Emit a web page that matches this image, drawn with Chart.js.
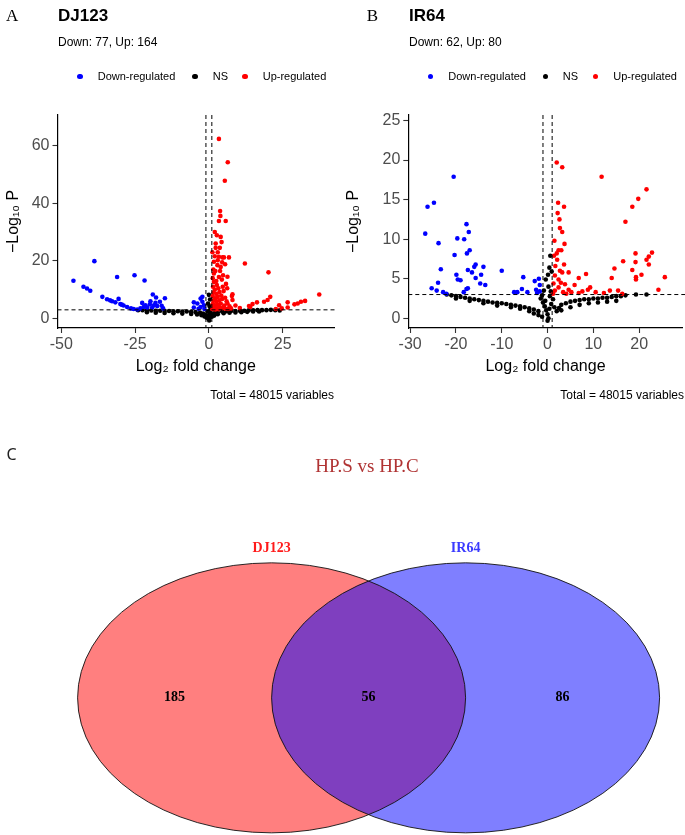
<!DOCTYPE html>
<html><head><meta charset="utf-8">
<script src="https://cdn.jsdelivr.net/npm/chart.js@4.4.1/dist/chart.umd.min.js"></script>
<style>
html,body{margin:0;padding:0;background:#fff;}
#fig{position:relative;width:685px;height:835px;overflow:hidden;background:#fff;font-family:"Liberation Sans",Arial,sans-serif;color:#000;}
.t{position:absolute;white-space:nowrap;line-height:1;}
.serif{font-family:"Liberation Serif","Times New Roman",serif;}
canvas{position:absolute;}
.dot{position:absolute;width:5.6px;height:5.6px;border-radius:50%;margin:-2.8px 0 0 -2.8px;}
</style></head>
<body><div id="fig">
<canvas id="cA" width="342" height="420" style="left:0;top:0;width:342px;height:420px"></canvas>
<canvas id="cB" width="345" height="420" style="left:340px;top:0;width:345px;height:420px"></canvas>
<canvas id="cV" width="685" height="405" style="left:0;top:430px;width:685px;height:405px"></canvas>

<div class="t serif" style="left:6px;top:6.5px;font-size:17px">A</div>
<div class="t" style="left:58px;top:7.3px;font-size:17px;font-weight:bold">DJ123</div>
<div class="t" style="left:58px;top:35.8px;font-size:12px">Down: 77, Up: 164</div>
<div class="dot" style="left:80px;top:76.7px;background:#0000ff"></div>
<div class="t" style="left:97.7px;top:71.2px;font-size:11px">Down-regulated</div>
<div class="dot" style="left:195px;top:76.7px;background:#000"></div>
<div class="t" style="left:212.7px;top:71.2px;font-size:11px">NS</div>
<div class="dot" style="left:245px;top:76.7px;background:#ff0000"></div>
<div class="t" style="left:262.7px;top:71.2px;font-size:11px">Up-regulated</div>
<div class="t" style="right:351px;top:388.8px;font-size:12px">Total = 48015 variables</div>

<div class="t serif" style="left:366.7px;top:6.5px;font-size:17px">B</div>
<div class="t" style="left:409px;top:7.3px;font-size:17px;font-weight:bold">IR64</div>
<div class="t" style="left:409px;top:35.8px;font-size:12px">Down: 62, Up: 80</div>
<div class="dot" style="left:430.7px;top:76.7px;background:#0000ff"></div>
<div class="t" style="left:448.3px;top:71.2px;font-size:11px">Down-regulated</div>
<div class="dot" style="left:545.7px;top:76.7px;background:#000"></div>
<div class="t" style="left:562.7px;top:71.2px;font-size:11px">NS</div>
<div class="dot" style="left:595.3px;top:76.7px;background:#ff0000"></div>
<div class="t" style="left:613.3px;top:71.2px;font-size:11px">Up-regulated</div>
<div class="t" style="right:1px;top:388.8px;font-size:12px">Total = 48015 variables</div>

<div class="t" style="left:6.6px;top:445.8px;font-size:16px;font-family:'Noto Sans',sans-serif;color:#222">C</div>
<div class="t serif" style="left:367px;top:456px;font-size:19px;color:#b03434;transform:translateX(-50%)">HP.S vs HP.C</div>
</div>
<script>
// ---------------- DATA ----------------
// Panel A: DJ123 (log2 fold change, -log10 P)
const djDown = [[-38.8,19.9],[-45.9,13.1],[-42.5,11.0],[-41.3,10.4],[-40.2,9.6],[-31.1,14.4],[-25.2,15.0],[-21.8,13.2],
 [-36.1,7.5],[-34.5,6.7],[-32.8,6.0],[-31.7,5.6],[-30.6,6.8],[-30.0,5.0],[-28.9,4.5],[-27.7,4.0],[-26.4,3.5],[-24.3,3.1],
 [-22.6,5.4],[-21.5,4.6],[-19.0,8.3],[-17.9,7.3],[-14.9,7.0],[-19.8,6.0],[-18.1,5.4],[-16.6,5.8],[-20.9,3.8],[-19.2,3.8],
 [-17.5,4.3],[-22.1,4.0],[-23.2,3.5],[-33.5,6.3],[-29.5,4.8],[-25.5,3.3],[-20.0,4.9],[-18.6,4.6],[-16.0,4.4],[-15.5,3.5],
 [-5.1,5.6],[-2.8,6.9],[-2.2,5.8],[-3.9,5.2],[-1.7,4.6],[-5.1,3.8],[-2.8,4.0],[-1.5,3.3],[-3.5,3.4],[-2.2,7.5]];
const djUp = [[3.4,62.3],[6.4,54.2],[5.4,47.8],[3.8,37.3],[3.9,35.6],[3.4,33.8],[5.7,33.8],[2.7,28.9],[4.0,28.3],[2.3,24.5],
 [3.7,24.5],[2.0,21.6],[3.4,21.4],[5.1,21.2],[6.8,21.2],[4.6,21.2],[12.2,19.1],[1.7,19.7],[2.9,18.5],[4.0,17.9],[20.2,16.0],
 [1.7,15.6],[3.4,14.4],[4.4,13.5],[1.7,12.7],[2.7,11.6],[4.7,11.0],[37.4,8.3],[7.8,7.8],[8.0,8.4],[20.8,7.5],[19.9,6.4],
 [18.7,5.8],[16.3,5.6],[14.8,5.0],[14.0,4.0],[26.7,5.6],[31.2,5.8],[30.1,5.2],[29.0,4.9],[32.6,6.1],[23.8,4.6],[22.7,3.3],
 [24.7,3.5],[26.7,3.8],[13.6,4.3],[8.0,6.4],[6.3,5.2],
 [1.5,17.0],[2.2,16.5],[1.3,14.0],[2.5,13.0],[1.4,11.0],[2.0,10.0],[3.2,10.5],[1.6,9.0],[2.6,8.5],[3.6,9.2],[1.3,7.8],
 [2.2,7.0],[3.0,7.5],[4.2,8.0],[5.0,9.5],[1.5,6.2],[2.5,5.8],[3.5,6.3],[4.5,6.8],[5.5,7.2],[1.3,5.0],[2.0,4.6],[3.0,4.8],
 [4.0,5.2],[5.2,4.5],[6.0,6.0],[1.6,3.8],[2.6,3.5],[3.6,4.0],[4.6,3.6],[5.6,3.4],[7.0,4.2],[1.2,3.2],[2.2,3.1],[3.3,3.2],
 [6.5,3.3],[7.5,3.5],[9.0,4.5],[10.5,3.6],[4.8,15.0],[3.8,16.5],[5.8,12.0],[6.2,10.5],[2.3,26.0],[4.3,26.5],[3.0,23.0],
 [5.5,18.8],[6.3,14.5],[4.5,19.5],[3.0,20.2],[1.2,23.0],[2.0,30.0]];
const djNS = [[-24,2.9],[-22.5,2.9],[-21,2.8],[-19.5,2.8],[-18,2.7],[-16.5,2.7],[-15,2.6],[-13.5,2.6],[-12,2.5],[-10.5,2.5],
 [-9,2.4],[-7.5,2.4],[-6,2.3],[-4.5,2.2],[-3,2.0],[-2,1.7],[-1.2,1.2],
 [-21,2.2],[-18,2.0],[-15,1.9],[-12,1.8],[-9,1.7],[-6,1.6],[-4,1.4],[-2.5,1.1],[-1.5,0.7],[-0.8,0.3],
 [0,0],[0.1,-0.7],[-0.3,1.0],[0.3,1.5],[-0.4,2.4],[0.5,3.2],[0.2,4.3],[-0.3,5.2],[0.4,6.6],[0.0,8.2],[0.6,2.0],[0.3,0.5],
 [1.2,1.4],[2,1.9],[3,2.2],[4.5,2.4],[6,2.5],[7.5,2.6],[9,2.6],[10.5,2.7],[12,2.7],[13.5,2.8],[15,2.8],[16.5,2.9],[18,2.9],
 [19.5,2.9],[21,3.0],[22.5,2.9],[24,2.8],
 [1,0.6],[1.8,1.0],[3,1.5],[5,1.8],[7,2.0],[9,2.1],[11,2.2],[13,2.3],[15,2.4],[17,2.4]];

// Panel B: IR64
const irDown = [[-20.5,17.9],[-26.2,14.1],[-24.8,14.6],[-26.7,10.7],[-23.8,9.5],[-17.7,11.9],[-17.2,10.9],[-19.7,10.1],
 [-18.2,10.0],[-20.3,8.0],[-17.0,8.6],[-17.6,8.2],[-23.3,6.2],[-15.7,6.8],[-16.0,6.5],[-14.0,6.5],[-17.4,6.1],[-16.5,5.8],
 [-10.0,6.0],[-19.9,5.5],[-14.5,5.5],[-19.6,4.9],[-19.0,4.8],[-23.9,4.5],[-15.7,5.1],[-14.7,4.4],[-13.6,4.2],[-25.3,3.8],
 [-24.2,3.5],[-22.8,3.3],[-22.1,3.1],[-18.3,3.3],[-17.7,3.7],[-17.4,3.8],[-5.3,5.2],[-2.8,4.7],[-1.9,5.0],[-1.7,4.2],
 [-5.6,3.7],[-7.3,3.3],[-6.6,3.3],[-4.4,3.3],[-2.5,3.6],[-1.7,3.4],[-2.3,3.2]];
const irUp = [[2.0,19.7],[3.2,19.1],[11.8,17.9],[21.6,16.3],[19.8,15.1],[18.5,14.1],[2.3,14.6],[3.6,14.1],[2.2,13.3],
 [2.6,12.5],[2.7,11.4],[3.2,10.9],[17.0,12.2],[1.5,9.8],[3.7,9.4],[2.4,8.6],[2.0,8.2],[3.0,8.6],[22.8,8.3],[22.1,7.8],
 [21.6,7.4],[22.1,6.8],[19.2,8.2],[19.2,7.1],[16.5,7.2],[14.6,6.3],[18.5,6.1],[20.5,5.5],[19.3,5.2],[19.3,4.9],[25.6,5.2],
 [24.2,3.6],[14.0,5.1],[8.4,5.6],[6.8,5.1],[4.6,5.8],[3.2,5.8],[1.7,6.6],[2.1,7.4],[1.6,5.4],[2.4,4.9],[5.9,4.2],[9.3,3.9],
 [8.8,3.6],[4.6,3.6],[3.4,3.3],[1.6,3.5],[2.4,3.9],[6.8,3.2],[13.6,3.5],[15.4,3.5],[16.3,3.1],
 [1.3,4.4],[2.9,4.5],[3.8,4.3],[1.2,3.1],[2.7,6.0],[3.6,6.8],[1.4,7.9],[4.1,3.1],[5.2,3.3],[7.6,3.4],[10.5,3.3],[12.3,3.2]];
const irNS = [[-22,3.0],[-21,2.9],[-20,2.8],[-19,2.7],[-18,2.6],[-17,2.5],[-16,2.4],[-15,2.3],[-14,2.2],[-13,2.1],[-12,2.0],
 [-11,1.95],[-10,1.9],[-9,1.8],[-8,1.7],[-7,1.6],[-6,1.5],[-5,1.4],[-4,1.25],[-3,1.1],[-2,0.9],
 [-20,2.5],[-17,2.2],[-14,1.9],[-11,1.6],[-8,1.4],[-6,1.2],[-4,0.9],[-3,0.6],[-2,0.4],[-1.2,0.2],
 [-1.5,2.5],[-1.0,2.0],[-0.6,1.5],[-0.3,1.0],[0,0.5],[0.2,0],[0,-0.3],[0.4,1.2],[0.8,1.8],[1.2,2.4],[-1.2,2.9],[0.5,2.8],
 [-0.5,2.2],[1.5,1.4],[2,0.9],[2.5,1.3],[0.6,7.9],[0.4,6.4],[0.9,5.9],[-0.4,4.9],[0.2,4.0],[-0.8,3.5],[0.7,3.4],[0.1,5.5],
 [3,1.7],[4,1.9],[5,2.1],[6,2.2],[7,2.3],[8,2.4],[9,2.4],[10,2.5],[11,2.5],[12,2.6],[13,2.6],[14,2.7],[15,2.8],[16,2.8],
 [17,2.9],[19.3,3.0],[21.6,3.0],
 [3,1.0],[5,1.4],[7,1.7],[9,1.9],[11,2.0],[13,2.1],[15,2.2]];

// cut-offs
const fcCutoffs = [-1, 1];
const pCutoff = 3;

// axes
const djXTicks = [-50, -25, 0, 25];
const djYTicks = [0, 20, 40, 60];
const irXTicks = [-30, -20, -10, 0, 10, 20];
const irYTicks = [0, 5, 10, 15, 20, 25];
const djXLim = [-51.3, 42.4];
const djYLim = [-3.3, 70.6];
const irXLim = [-30.4, 29.5];
const irYLim = [-1.23, 25.7];

// Panel C: Venn counts
const vennSets = ['DJ123', 'IR64'];
const vennCounts = [185, 56, 86]; // DJ123 only, shared, IR64 only

// ---------------- DRAWING ----------------
const cutoffPlugin = {
  id: 'cutoffs',
  afterDatasetsDraw(chart, args, opts) {
    const {ctx, chartArea: a, scales: {x, y}} = chart;
    ctx.save();
    ctx.setLineDash([4, 3]);
    ctx.lineWidth = 1;
    ctx.strokeStyle = '#000';
    opts.fc.forEach(v => {
      const px = x.getPixelForValue(v);
      ctx.beginPath(); ctx.moveTo(px, a.top); ctx.lineTo(px, a.bottom); ctx.stroke();
    });
    const py = y.getPixelForValue(opts.p);
    ctx.beginPath(); ctx.moveTo(a.left, py); ctx.lineTo(a.right + 3, py); ctx.stroke();
    ctx.restore();
  }
};

const toPts = arr => arr.map(p => ({x: p[0], y: p[1]}));

function volcano(id, down, up, ns, xLim, yLim, xTicks, yTicks, yWidth, padRight) {
  const tickFont = {family: "'Liberation Sans', Arial, sans-serif", size: 16};
  const common = {
    grid: {display: true, drawOnChartArea: false, drawTicks: true, tickLength: 5, color: '#333', tickWidth: 1.1},
    border: {display: true, color: '#000', width: 1.2},
  };
  return new Chart(document.getElementById(id), {
    type: 'scatter',
    data: {datasets: [
      {label: 'Down-regulated', data: toPts(down), backgroundColor: '#0000ff'},
      {label: 'Up-regulated', data: toPts(up), backgroundColor: '#ff0000'},
      {label: 'NS', data: toPts(ns), backgroundColor: '#000000'}
    ]},
    options: {
      responsive: false, animation: false, devicePixelRatio: 1,
      layout: {padding: {top: 115, right: padRight, bottom: 40, left: 0}},
      elements: {point: {radius: 2.3, borderWidth: 0, hoverRadius: 2.3}},
      plugins: {legend: {display: false}, tooltip: {enabled: false}, cutoffs: {fc: fcCutoffs, p: pCutoff}},
      scales: {
        x: Object.assign({}, common, {
          type: 'linear', min: xLim[0], max: xLim[1],
          afterBuildTicks: s => { s.ticks = xTicks.map(v => ({value: v})); },
          afterFit: s => { s.height = 52; },
          ticks: {font: tickFont, color: '#4d4d4d', padding: 2, maxRotation: 0},
          title: {display: true, text: 'Log₂ fold change', color: '#000',
                  font: {family: "'Liberation Sans', Arial, sans-serif", size: 16}, padding: {top: 0, bottom: 4}}
        }),
        y: Object.assign({}, common, {
          type: 'linear', min: yLim[0], max: yLim[1],
          afterBuildTicks: s => { s.ticks = yTicks.map(v => ({value: v})); },
          afterFit: s => { s.width = yWidth; },
          ticks: {font: tickFont, color: '#4d4d4d', padding: 3},
          title: {display: true, text: '−Log₁₀ P', color: '#000',
                  font: {family: "'Liberation Sans', Arial, sans-serif", size: 16}, padding: {top: 4, bottom: 0}}
        })
      }
    },
    plugins: [cutoffPlugin]
  });
}

volcano('cA', djDown, djUp, djNS, djXLim, djYLim, djXTicks, djYTicks, 57.5, 8);
volcano('cB', irDown, irUp, irNS, irXLim, irYLim, irXTicks, irYTicks, 68.3, 0);

// Venn diagram: circles of radius 1 in data space (axes are scaled so they render as ellipses)
const VG = {cx: [1.4, 2.4], cy: 1.016, r: 1, labelY: 2.136, countX: [0.9, 1.9, 2.9]};
const vennPlugin = {
  id: 'venn',
  beforeDatasetsDraw(chart) {
    const {ctx, scales: {x, y}} = chart;
    const path = cx => {
      const px = x.getPixelForValue(cx), py = y.getPixelForValue(VG.cy);
      const rx = x.getPixelForValue(cx + VG.r) - px, ry = py - y.getPixelForValue(VG.cy + VG.r);
      ctx.beginPath(); ctx.ellipse(px, py, rx, ry, 0, 0, Math.PI * 2);
    };
    ctx.save();
    const fills = ['rgba(255,0,0,0.5)', 'rgba(0,0,255,0.5)'];
    VG.cx.forEach((cx, i) => { path(cx); ctx.fillStyle = fills[i]; ctx.fill(); });
    ctx.lineWidth = 0.9; ctx.strokeStyle = '#111';
    VG.cx.forEach(cx => { path(cx); ctx.stroke(); });
    const cols = ['#ff1a1a', '#3a3aff'];
    ctx.font = "bold 14px 'Liberation Serif', 'Times New Roman', serif";
    ctx.textAlign = 'center'; ctx.textBaseline = 'alphabetic';
    vennSets.forEach((s, i) => {
      ctx.fillStyle = cols[i];
      ctx.fillText(s, x.getPixelForValue(VG.cx[i]), y.getPixelForValue(VG.labelY) + 5);
    });
    ctx.restore();
  },
  afterDatasetsDraw(chart) {
    const {ctx} = chart;
    const meta = chart.getDatasetMeta(0);
    ctx.save();
    ctx.font = "bold 14px 'Liberation Serif', 'Times New Roman', serif";
    ctx.fillStyle = '#000'; ctx.textAlign = 'center'; ctx.textBaseline = 'middle';
    meta.data.forEach((el, i) => ctx.fillText(String(vennCounts[i]), el.x, el.y));
    ctx.restore();
  }
};
new Chart(document.getElementById('cV'), {
  type: 'scatter',
  data: {datasets: [{label: 'counts', data: vennCounts.map((c, i) => ({x: VG.countX[i], y: VG.cy})), pointRadius: 0}]},
  options: {
    responsive: false, animation: false, devicePixelRatio: 1,
    layout: {padding: 0},
    plugins: {legend: {display: false}, tooltip: {enabled: false}},
    scales: {x: {type: 'linear', display: false, min: 0, max: 685 / 194},
             y: {type: 'linear', display: false, min: 0, max: 3}}
  },
  plugins: [vennPlugin]
});
</script>
</body></html>
